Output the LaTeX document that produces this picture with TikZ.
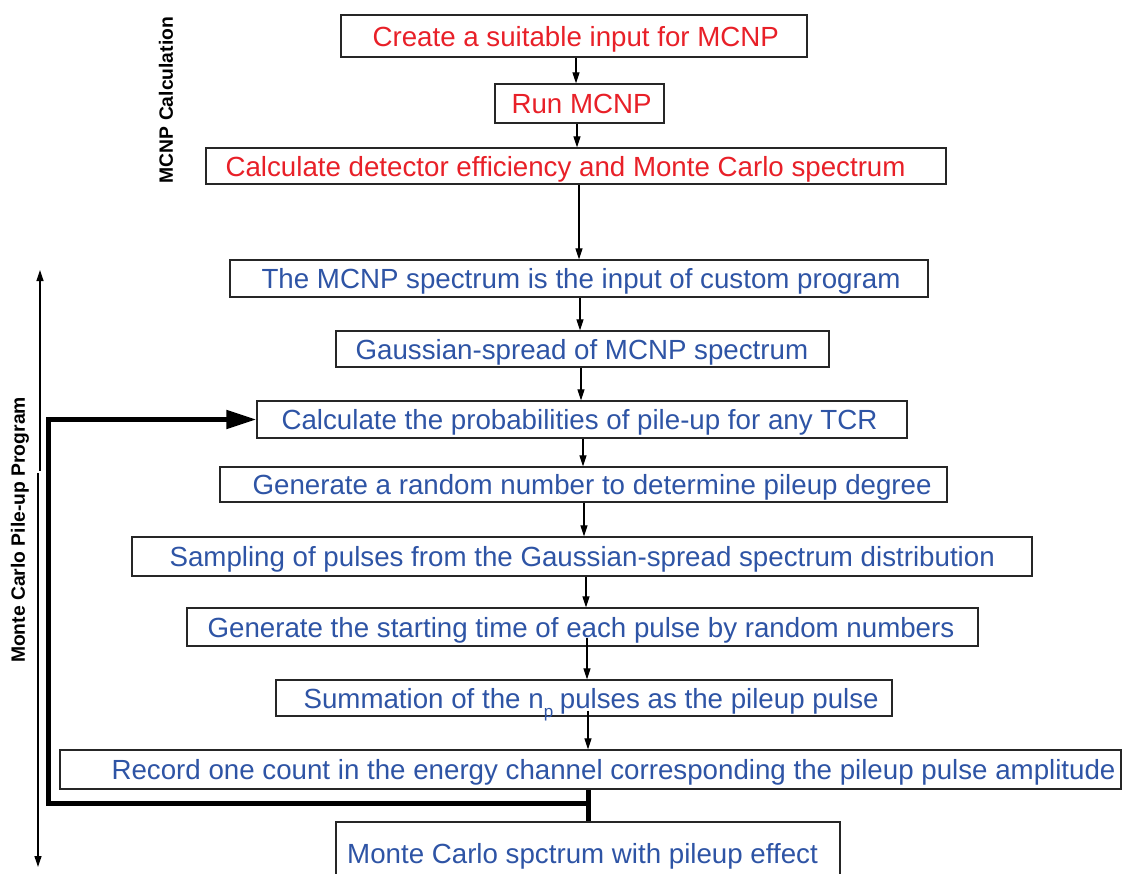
\documentclass[tikz,border=0pt]{standalone}
\usepackage{fontspec}
\setmainfont{Liberation Sans}
\usetikzlibrary{arrows.meta,calc}
\definecolor{tred}{RGB}{232,32,40}
\definecolor{tblue}{RGB}{46,84,165}
\tikzset{
  box/.style={draw=black!85, line width=1.3pt, inner sep=0pt},
  txt/.style={inner sep=0pt, anchor=west, font=\fontsize{27.7}{30}\selectfont, text height=20pt, text depth=0pt},
  redtxt/.style={txt, text=tred},
  bluetxt/.style={txt, text=tblue},
  arr/.style={line width=1.2pt, -{Triangle[length=11pt,width=7pt]}},
  loopline/.style={line width=5pt},
  side/.style={font=\fontsize{19.3}{21}\selectfont\bfseries, rotate=90, inner sep=0pt},
}
\begin{document}
\begin{tikzpicture}[x=1pt,y=-1pt]
\useasboundingbox (0,0) rectangle (1124,873);
% boxes
\node[box, minimum width=466, minimum height=42] (b1) at (574,36) {};
\node[box, minimum width=169, minimum height=39] (b2) at (579.5,103.5) {};
\node[box, minimum width=740, minimum height=36] (b3) at (576,166) {};
\node[box, minimum width=698, minimum height=37] (b4) at (579,278.5) {};
\node[box, minimum width=493, minimum height=36] (b5) at (582.5,349) {};
\node[box, minimum width=650, minimum height=37] (b6) at (582,419.5) {};
\node[box, minimum width=727, minimum height=35] (b7) at (583.5,484.5) {};
\node[box, minimum width=900, minimum height=39] (b8) at (582,556.5) {};
\node[box, minimum width=791, minimum height=38] (b9) at (582.5,627) {};
\node[box, minimum width=616, minimum height=36] (b10) at (584,698) {};
\node[box, minimum width=1061, minimum height=39] (b11) at (590.5,769.5) {};
\node[box, minimum width=504, minimum height=70] (b12) at (588,857) {};
% texts
\node[redtxt] (t1) at ([xshift=32]b1.west) {Create a suitable input for MCNP};
\node[redtxt] (t2) at ([xshift=17]b2.west) {Run MCNP};
\node[redtxt] (t3) at ([xshift=20]b3.west) {Calculate detector efficiency and Monte Carlo spectrum};
\node[bluetxt] (t4) at ([xshift=32]b4.west) {The MCNP spectrum is the input of custom program};
\node[bluetxt] (t5) at ([xshift=20]b5.west) {Gaussian-spread of MCNP spectrum};
\node[bluetxt] (t6) at ([xshift=25]b6.west) {Calculate the probabilities of pile-up for any TCR};
\node[bluetxt] (t7) at ([xshift=33]b7.west) {Generate a random number to determine pileup degree};
\node[bluetxt] (t8) at ([xshift=38]b8.west) {Sampling of pulses from the Gaussian-spread spectrum distribution};
\node[bluetxt] (t9) at ([xshift=21]b9.west) {Generate the starting time of each pulse by random numbers};
\node[bluetxt] (t10) at ([xshift=28]b10.west) {Summation of the n\raisebox{-9.5pt}{\fontsize{17}{18}\selectfont p}\hspace{-1pt} pulses as the pileup pulse};
\node[bluetxt] (t11) at ([xshift=52]b11.west) {Record one count in the energy channel corresponding the pileup pulse amplitude};
\node[bluetxt] (t12) at (347,853) {Monte Carlo spctrum with pileup effect};
% side labels
\node[side] (s1) at (166,100) {MCNP Calculation};
\node[side] (s2) at (20,530) {Monte Carlo Pile-up Program};
% arrow columns
\coordinate (x1) at (576,0);
\coordinate (x2) at (577,0);
\coordinate (x3) at (579,0);
\coordinate (x4) at (580,0);
\coordinate (x5) at (581,0);
\coordinate (x6) at (583,0);
\coordinate (x7) at (584,0);
\coordinate (x8) at (586,0);
\coordinate (x9) at (587,0);
\coordinate (x10) at (588,0);
\draw[arr] (b1.south -| x1) -- (b2.north -| x1);
\draw[arr] (b2.south -| x2) -- (b3.north -| x2);
\draw[arr] (b3.south -| x3) -- (b4.north -| x3);
\draw[arr] (b4.south -| x4) -- (b5.north -| x4);
\draw[arr] (b5.south -| x5) -- (b6.north -| x5);
\draw[arr] (b6.south -| x6) -- (b7.north -| x6);
\draw[arr] (b7.south -| x7) -- (b8.north -| x7);
\draw[arr] (b8.south -| x8) -- (b9.north -| x8);
\draw[arr] ([yshift=9]b9.south -| x9) -- (b10.north -| x9);
\draw[arr] ([yshift=6]b10.south -| x10) -- (b11.north -| x10);
% feedback loop
\coordinate (j) at (588,803);
\coordinate (lc) at (48,803);
\draw[loopline] (b11.south -| j) -- (b12.north -| j);
\draw[loopline, line join=miter, -{Triangle[length=30pt,width=18pt]}] ([xshift=2.5]j) -- (lc) |- (b6.west);
% left program arrow
\coordinate (pt) at (40,270);
\coordinate (pm) at (40,471);
\coordinate (pm2) at (38,473);
\coordinate (pb) at (38,867);
\draw[arr] (pm) -- (pt);
\draw[arr] (pm2) -- (pb);
\end{tikzpicture}
\end{document}
